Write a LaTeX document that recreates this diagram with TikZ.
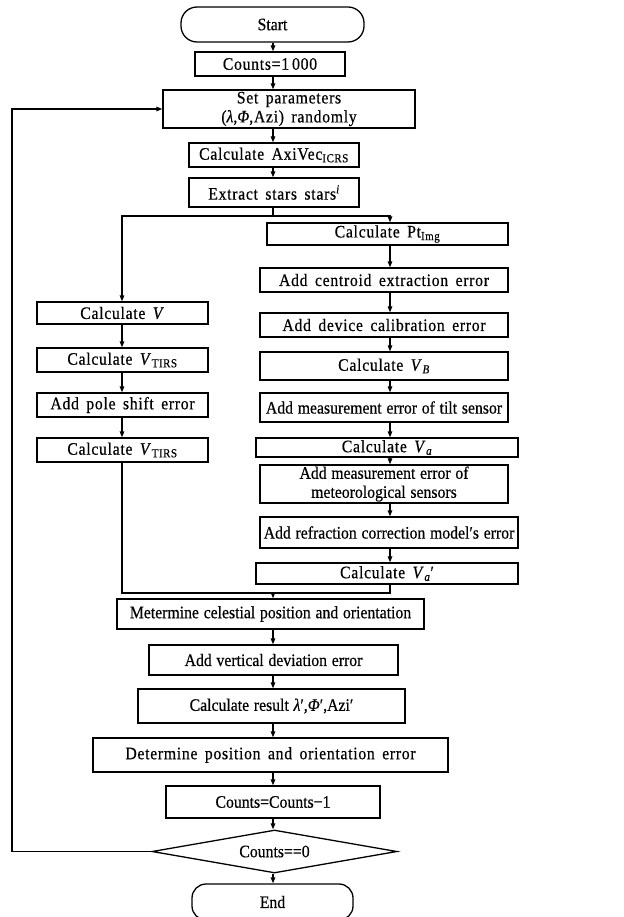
\documentclass[tikz,border=0pt]{standalone}
\usepackage{fontspec}
\setmainfont{Liberation Serif}[FakeStretch=0.9, FakeBold=0.5, WordSpace=1.2]
\newfontfamily\widefont{Liberation Serif}[FakeStretch=0.9, FakeBold=0.5, LetterSpace=4, WordSpace=1.6]
\usetikzlibrary{arrows.meta,shapes.geometric}

\begin{document}
\begin{tikzpicture}[x=1pt, y=-1pt, line width=1.3pt,
    every node/.style={font=\fontsize{17.5}{19}\selectfont},
    box/.style={draw, rectangle, inner sep=0pt, align=center},
    wide/.style={font=\fontsize{17.5}{19}\widefont},
    term/.style={box, rounded corners=16pt},
    arr/.style={-{Triangle[length=6pt,width=4.5pt]}}]
  \useasboundingbox (0,0) rectangle (623,917);
  \coordinate (mx) at (273,0);
  \coordinate (lx) at (122,0);
  \coordinate (rx) at (390,0);
  \coordinate (loop) at (12,0);
  \coordinate (split) at (273,216);
  \coordinate (merge) at (273,593);

  \node[term, minimum width=183pt, minimum height=35pt] (start) at (272.5,24.5) {Start};
  \node[box, wide, minimum width=150pt, minimum height=24pt] (cnt) at (270,64) {Counts=1\,000};
  \node[box, wide, minimum width=252pt, minimum height=38pt] (setp) at (289,109) {Set parameters\\({\itshape λ},{\itshape Φ},Azi) randomly};
  \node[box, wide, minimum width=170pt, minimum height=24pt] (axi) at (274,155) {Calculate AxiVec\textsubscript{ICRS}};
  \node[box, wide, minimum width=170pt, minimum height=29pt] (ext) at (274,192.5) {Extract stars stars\textsuperscript{\itshape i}};

  \node[box, wide, minimum width=171pt, minimum height=22pt] (v) at (122.5,313) {Calculate \textit{V}};
  \node[box, wide, minimum width=171pt, minimum height=24pt] (vt) at (122.5,360) {Calculate \textit{V}\textsubscript{TIRS}};
  \node[box, wide, minimum width=171pt, minimum height=24pt] (pole) at (122.5,405) {Add pole shift error};
  \node[box, wide, minimum width=171pt, minimum height=24pt] (vt2) at (122.5,450) {Calculate \textit{V}\textsubscript{TIRS}};

  \node[box, wide, minimum width=241pt, minimum height=22pt] (pt) at (387.5,234) {Calculate Pt\textsubscript{Img}};
  \node[box, wide, minimum width=248pt, minimum height=24pt] (cen) at (384,280) {Add centroid extraction error};
  \node[box, wide, minimum width=248pt, minimum height=24pt] (dev) at (384,325) {Add device calibration error};
  \node[box, wide, minimum width=248pt, minimum height=28pt] (vb) at (384,366) {Calculate \textit{V}\textsubscript{\itshape B}};
  \node[box, minimum width=248pt, minimum height=29pt] (tilt) at (384,407.5) {Add measurement error of tilt sensor};
  \node[box, wide, minimum width=262pt, minimum height=19pt] (va) at (387,447.5) {Calculate \textit{V}\textsubscript{\itshape a}};
  \node[box, minimum width=248pt, minimum height=38pt] (met) at (384,484) {Add measurement error of\\meteorological sensors};
  \node[box, minimum width=258pt, minimum height=31pt] (refr) at (389,532.5) {Add refraction correction model′s error};
  \node[box, wide, minimum width=262pt, minimum height=21pt] (vap) at (387,573.5) {Calculate \textit{V}\textsubscript{\itshape a}′};

  \node[box, minimum width=307pt, minimum height=30pt] (mdet) at (270.5,614) {Metermine celestial position and orientation};
  \node[box, minimum width=249pt, minimum height=30pt] (vert) at (273.5,660) {Add vertical deviation error};
  \node[box, minimum width=267pt, minimum height=34pt] (res) at (271.5,706) {Calculate result {\itshape λ}′,{\itshape Φ}′,Azi′};
  \node[box, wide, minimum width=355pt, minimum height=34pt] (det) at (270.5,755) {Determine position and orientation error};
  \node[box, minimum width=214pt, minimum height=32pt] (cm1) at (273,802) {Counts=Counts−1};
  \node[draw, diamond, aspect=5.7, inner sep=0pt, minimum width=245pt, minimum height=43pt] (dia) at (274.5,851.5) {Counts==0};
  \node[term, rounded corners=14pt, minimum width=161pt, minimum height=36pt] (end) at (272.5,902) {End};

  \draw[arr] (start.south -| mx) -- (cnt.north -| mx);
  \draw[arr] (cnt.south -| mx) -- (setp.north -| mx);
  \draw[arr] (setp.south -| mx) -- (axi.north -| mx);
  \draw[arr] (axi.south -| mx) -- (ext.north -| mx);
  \draw (ext.south -| mx) -- (split);
  \draw[arr] (split) -| (v.north -| lx);
  \draw[arr] (split) -| (pt.north -| rx);

  \draw[arr] (v.south -| lx) -- (vt.north -| lx);
  \draw[arr] (vt.south -| lx) -- (pole.north -| lx);
  \draw[arr] (pole.south -| lx) -- (vt2.north -| lx);

  \draw[arr] (pt.south -| rx) -- (cen.north -| rx);
  \draw[arr] (cen.south -| rx) -- (dev.north -| rx);
  \draw[arr] (dev.south -| rx) -- (vb.north -| rx);
  \draw[arr] (vb.south -| rx) -- (tilt.north -| rx);
  \draw[arr] (tilt.south -| rx) -- (va.north -| rx);
  \draw[arr] (va.south -| rx) -- (met.north -| rx);
  \draw[arr] (met.south -| rx) -- (refr.north -| rx);
  \draw[arr] (refr.south -| rx) -- (vap.north -| rx);

  \draw (vt2.south -| lx) |- (merge);
  \draw (vap.south -| rx) |- (merge);
  \draw[arr] (merge) -- (mdet.north -| mx);
  \draw[arr] (mdet.south -| mx) -- (vert.north -| mx);
  \draw[arr] (vert.south -| mx) -- (res.north -| mx);
  \draw[arr] (res.south -| mx) -- (det.north -| mx);
  \draw[arr] (det.south -| mx) -- (cm1.north -| mx);
  \draw[arr] (cm1.south -| mx) -- (dia.north -| mx);
  \draw[arr] (dia.south -| mx) -- (end.north -| mx);
  \draw[arr] (dia.west) -- (dia.west -| loop) |- (setp.west);
\end{tikzpicture}
\end{document}
